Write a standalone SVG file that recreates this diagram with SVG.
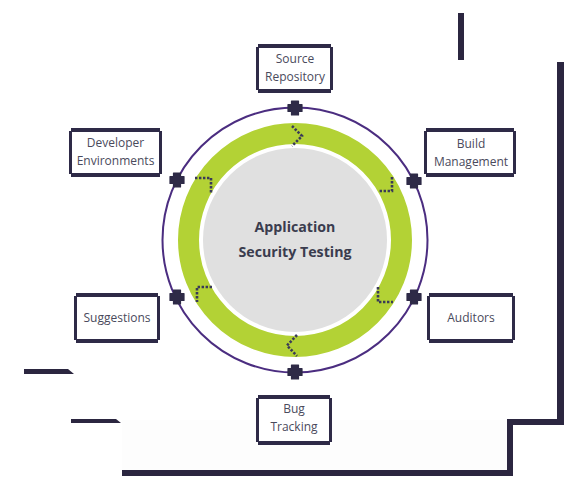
<svg xmlns="http://www.w3.org/2000/svg" width="579" height="492" viewBox="0 0 579 492">
<style>
.bar{fill:#2e2a47}
.box{fill:#ffffff}
.lbl{font-family:"Open Sans","Liberation Sans",sans-serif;font-size:12px;fill:#4a4a5c;text-anchor:middle}
.title{font-family:"Open Sans","Liberation Sans",sans-serif;font-size:14.2px;font-weight:700;fill:#3a3c4e;text-anchor:middle}
.dots{fill:none;stroke:#3a3a58;stroke-width:2.6;stroke-dasharray:2.4 1.6}
.dark{fill:#2b2640}
</style>
<defs>
<path id="plus" d="M-3.5,-7 h7 v3.5 h3.5 v7 h-3.5 v3.5 h-7 v-3.5 h-3.5 v-7 h3.5 z" fill="#2e2a47" stroke="#2e2a47" stroke-width="1.2" stroke-linejoin="round"/>
</defs>
<rect width="579" height="492" fill="#ffffff"/>
<g id="decor">
<rect x="122" y="420" width="385" height="50" fill="#fdfdfd"/>
<rect class="dark" x="458" y="13" width="6" height="47"/>
<path class="dark" d="M557,62 H564 V425 H513 V476 H122 V470 H507 V419 H557 Z"/>
<path class="dark" d="M24,369 H68 L74,374 H24 Z"/>
<path class="dark" d="M71,419 H116 L121,423 H71 Z"/>
</g>
<g id="ring">
<circle cx="295" cy="240" r="132.5" fill="none" stroke="#4b2d80" stroke-width="2"/>
<circle cx="295" cy="240" r="106.5" fill="none" stroke="#b3d235" stroke-width="21"/>
<circle cx="295" cy="240" r="92" fill="#e0e0e0"/>
</g>
<g id="center">
<text class="title" x="295" y="232">Application</text>
<text class="title" x="295" y="257">Security Testing</text>
</g>
<g id="connectors">
<path class="dots" d="M292,126 L302,136 L292,146"/>
<path class="dots" d="M392,177 V191 H378"/>
<path class="dots" d="M378,287 V302 H393"/>
<path class="dots" d="M297,335 L287,345.5 L297,356"/>
<path class="dots" d="M212,287 H197 V302"/>
<path class="dots" d="M195,178 H211 V193"/>
<use href="#plus" x="295" y="108"/>
<use href="#plus" x="177" y="180"/>
<use href="#plus" x="414" y="181"/>
<use href="#plus" x="177" y="297"/>
<use href="#plus" x="414" y="297"/>
<use href="#plus" x="295" y="372"/>
</g>
<g id="source-repository">
<rect class="box" x="256" y="44" width="77" height="49"/>
<rect class="bar" x="258" y="44" width="73" height="4"/>
<rect class="bar" x="258" y="89" width="73" height="4"/>
<rect class="bar" x="256" y="47" width="3" height="43"/>
<rect class="bar" x="330" y="47" width="3" height="43"/>
<text class="lbl" x="295" y="63">Source</text>
<text class="lbl" x="295" y="81">Repository</text>
</g>
<g id="developer-environments">
<rect class="box" x="69" y="128" width="93" height="49"/>
<rect class="bar" x="71" y="128" width="89" height="4"/>
<rect class="bar" x="71" y="173" width="89" height="4"/>
<rect class="bar" x="69" y="131" width="3" height="43"/>
<rect class="bar" x="159" y="131" width="3" height="43"/>
<text class="lbl" x="115.5" y="147">Developer</text>
<text class="lbl" x="115.5" y="165">Environments</text>
</g>
<g id="build-management">
<rect class="box" x="424" y="128" width="92" height="49"/>
<rect class="bar" x="426" y="128" width="88" height="4"/>
<rect class="bar" x="426" y="173" width="88" height="4"/>
<rect class="bar" x="424" y="131" width="3" height="43"/>
<rect class="bar" x="513" y="131" width="3" height="43"/>
<text class="lbl" x="471" y="148">Build</text>
<text class="lbl" x="471" y="166">Management</text>
</g>
<g id="suggestions">
<rect class="box" x="74" y="293" width="86" height="50"/>
<rect class="bar" x="76" y="293" width="82" height="4"/>
<rect class="bar" x="76" y="339" width="82" height="4"/>
<rect class="bar" x="74" y="296" width="3" height="44"/>
<rect class="bar" x="157" y="296" width="3" height="44"/>
<text class="lbl" x="117" y="322">Suggestions</text>
</g>
<g id="auditors">
<rect class="box" x="427" y="293" width="88" height="50"/>
<rect class="bar" x="429" y="293" width="84" height="4"/>
<rect class="bar" x="429" y="339" width="84" height="4"/>
<rect class="bar" x="427" y="296" width="3" height="44"/>
<rect class="bar" x="512" y="296" width="3" height="44"/>
<text class="lbl" x="471" y="322">Auditors</text>
</g>
<g id="bug-tracking">
<rect class="box" x="256" y="395" width="76" height="50"/>
<rect class="bar" x="258" y="395" width="72" height="4"/>
<rect class="bar" x="258" y="441" width="72" height="4"/>
<rect class="bar" x="256" y="398" width="3" height="44"/>
<rect class="bar" x="329" y="398" width="3" height="44"/>
<text class="lbl" x="294" y="413">Bug</text>
<text class="lbl" x="294" y="431">Tracking</text>
</g>
</svg>
